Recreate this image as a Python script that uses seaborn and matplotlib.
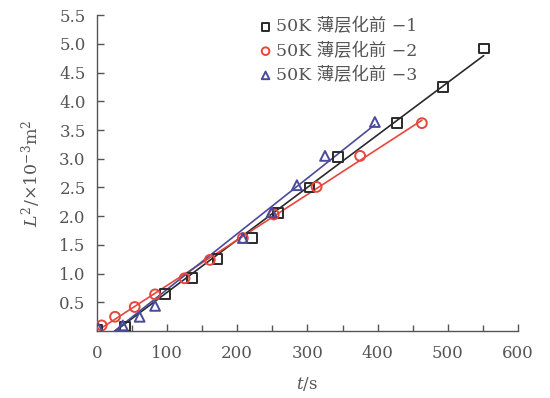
import numpy as np
import pandas as pd
import matplotlib
matplotlib.use("Agg")
import matplotlib.pyplot as plt
import seaborn as sns

## Data (t in s, L^2 in 10^-3 m^2)
t_1 = [0, 40, 97, 135, 172, 221, 258, 303, 343, 427, 493, 551]
L_1 = [0.03, 0.08, 0.64, 0.92, 1.25, 1.62, 2.05, 2.50, 3.03, 3.62, 4.25, 4.92]

t_2 = [7, 26, 54, 83, 125, 161, 208, 252, 313, 375, 463]
L_2 = [0.10, 0.25, 0.42, 0.64, 0.92, 1.24, 1.62, 2.03, 2.51, 3.05, 3.62]

t_3 = [2, 37, 61, 83, 208, 249, 285, 325, 396]
L_3 = [0.05, 0.10, 0.25, 0.44, 1.62, 2.07, 2.54, 3.05, 3.64]

labels = ["50K 薄层化前 \u22121", "50K 薄层化前 \u22122", "50K 薄层化前 \u22123"]
colors = ["#2a2a2a", "#e8463c", "#4a4a9c"]
markers = ["s", "o", "^"]

sns.set_style("ticks")
plt.rcParams['font.family'] = ['DejaVu Serif', 'Noto Sans CJK SC']
plt.rcParams['mathtext.fontset'] = 'dejavuserif'

fig = plt.figure(figsize=(5.5, 3.98), dpi=100)
ax = fig.add_axes([0.176, 0.168, 0.766, 0.794])

series = [(t_1, L_1), (t_2, L_2), (t_3, L_3)]
for (t, L), lab, c, m in zip(series, labels, colors, markers):
    df = pd.DataFrame({"t": t, "L": L})
    # linear fit line over the data range
    k, b = np.polyfit(df["t"], df["L"], 1)
    xs = np.array([max(df["t"].min(), -b / k), df["t"].max()])
    ax.plot(xs, k * xs + b, color=c, lw=1.2, zorder=2)
    sns.scatterplot(data=df, x="t", y="L", ax=ax, marker=m, s=50,
                    facecolor="none", edgecolor=c, linewidth=1.4,
                    label=lab, zorder=3)

ax.set_xlim(0, 600)
ax.set_ylim(0, 5.5)
ax.set_xticks(np.arange(0, 601, 100))
ax.set_xticks(np.arange(50, 600, 100), minor=True)
ax.set_yticks(np.arange(0.5, 5.51, 0.5))
ax.set_yticklabels([f"{v:.1f}" for v in np.arange(0.5, 5.51, 0.5)])
ax.tick_params(direction="in", length=5, width=1, colors="#555555", labelsize=12)
ax.tick_params(axis="x", pad=10)
ax.tick_params(axis="y", pad=8)
ax.tick_params(which="minor", direction="in", length=4, width=1, color="#555555")
for s in ["left", "bottom"]:
    ax.spines[s].set_color("#555555")
    ax.spines[s].set_linewidth(1.0)
sns.despine(ax=ax)

ax.set_xlabel("$t$/s", fontsize=12, color="#555555", labelpad=9)
ax.set_ylabel("$L^2$/$\\times$10$^{-3}$m$^2$", fontsize=12.5, color="#555555", labelpad=12)

leg = ax.legend(loc="upper left", bbox_to_anchor=(0.38, 0.99), frameon=False,
                fontsize=12.5, handlelength=1.0, handletextpad=0.1,
                labelspacing=0.4, borderaxespad=0, borderpad=0)
for txt in leg.get_texts():
    txt.set_color("#555555")
for h in leg.legend_handles:
    h.set_sizes([30])

fig.savefig("out.png", dpi=100, facecolor="white")
